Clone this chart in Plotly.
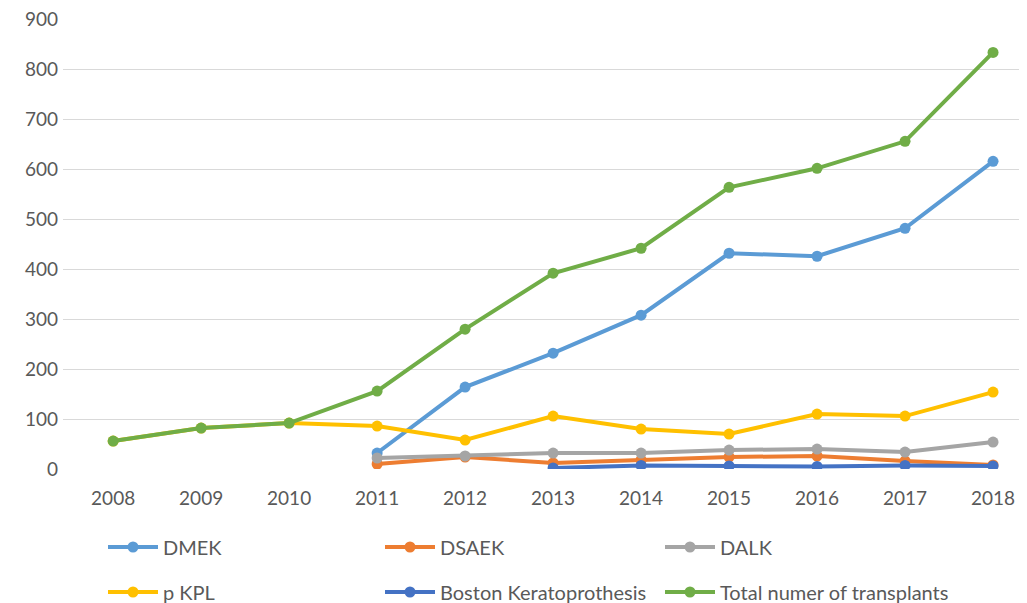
import plotly.graph_objects as go

years = [2008, 2009, 2010, 2011, 2012, 2013, 2014, 2015, 2016, 2017, 2018]
dmek = [None, None, None, 32, 164, 232, 308, 432, 426, 482, 616]
dsaek = [None, None, None, 10, 24, 12, 18, 24, 26, 16, 8]
dalk = [None, None, None, 22, 26, 32, 32, 38, 40, 34, 54]
pkpl = [56, 82, 92, 86, 58, 106, 80, 70, 110, 106, 154]
boston = [None, None, None, None, None, 2, 7, 6, 5, 7, 6]
total = [56, 82, 92, 156, 280, 392, 442, 564, 602, 656, 834]

names = ["DMEK", "DSAEK", "DALK", "p KPL", "Boston Keratoprothesis",
         "Total numer of transplants"]
values = [dmek, dsaek, dalk, pkpl, boston, total]
colors = ["#5B9BD5", "#ED7D31", "#A5A5A5", "#FFC000", "#4472C4", "#70AD47"]

# the page body adds an 8px offset, so the figure is laid out in page coords - 8
W, H = 1019, 595
ML, MR, MT, MB = 55, 0, 11, 134
PW, PH = W - ML - MR, H - MT - MB
col_px = [95, 372, 652]
row_px = [539, 584]

tick_font = dict(family="Lato, Open Sans, sans-serif", size=19, color="#595959")
leg_font = dict(family="Lato, Open Sans, sans-serif", size=20, color="#595959")

fig = go.Figure()
legends = {}
for i, (name, vals, color) in enumerate(zip(names, values, colors)):
    key = "legend" if i == 0 else f"legend{i + 1}"
    fig.add_trace(go.Scatter(
        x=years, y=vals, name=name, mode="lines+markers",
        line=dict(color=color, width=4),
        marker=dict(color=color, size=11),
        legend=key,
    ))
    legends[key] = dict(
        orientation="v",
        x=(col_px[i % 3] - ML) / PW,
        y=(H - MB - row_px[i // 3]) / PH,
        xanchor="left", yanchor="middle",
        itemwidth=50, font=leg_font, bgcolor="rgba(0,0,0,0)",
    )

fig.update_layout(
    width=W, height=H,
    margin=dict(l=ML, r=MR, t=MT, b=MB, autoexpand=False),
    paper_bgcolor="white", plot_bgcolor="white",
    font=tick_font,
    showlegend=True,
    xaxis=dict(
        range=[2007.43, 2018.386], tickvals=years, ticktext=[str(y) for y in years],
        showgrid=False, zeroline=False, showline=False, ticks="",
        ticklabelstandoff=16, tickfont=tick_font, automargin=False,
        ticklabeloverflow="allow",
    ),
    yaxis=dict(
        range=[0, 901], tickvals=list(range(0, 901, 100)),
        showgrid=True, gridcolor="#D9D9D9", gridwidth=1,
        zeroline=False, showline=False, ticks="",
        ticklabelstandoff=4, tickfont=tick_font, automargin=False,
        ticklabeloverflow="allow",
    ),
    **legends,
)
fig.write_html("out.html")
